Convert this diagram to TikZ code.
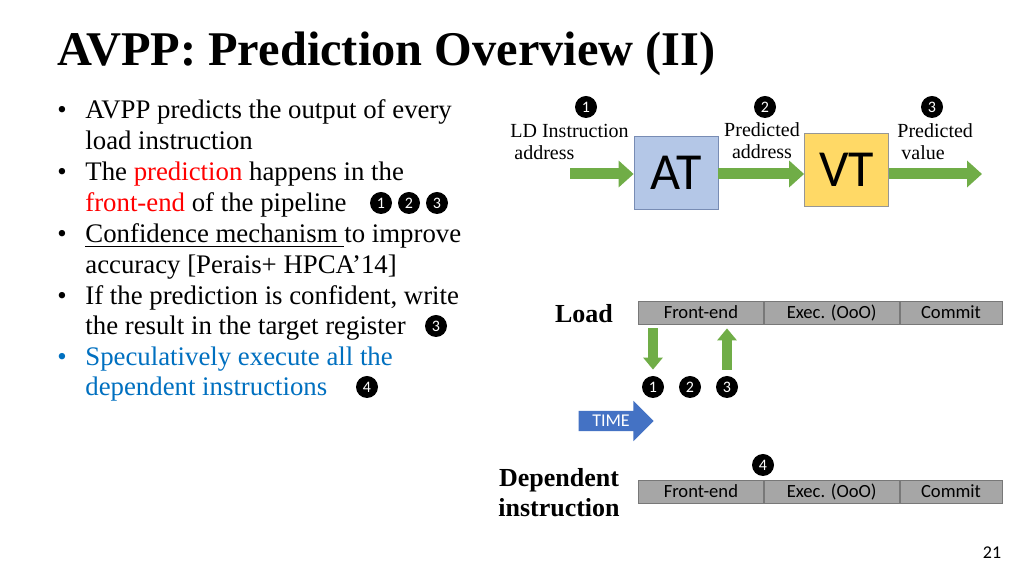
\documentclass[tikz,border=0pt]{standalone}
\usepackage{fontspec}
\setmainfont{Liberation Serif}
\setsansfont{Carlito}
\usetikzlibrary{positioning,shapes.arrows,arrows.meta}
\definecolor{hotred}{RGB}{255,0,0}
\definecolor{specblue}{RGB}{0,112,192}
\definecolor{arrowgreen}{RGB}{112,173,71}
\definecolor{timeblue}{RGB}{68,114,196}
\definecolor{atfill}{RGB}{180,199,231}
\definecolor{atline}{RGB}{120,140,180}
\definecolor{vtfill}{RGB}{255,217,102}
\definecolor{vtline}{RGB}{150,150,150}
\definecolor{stagefill}{RGB}{166,166,166}
\definecolor{stageline}{RGB}{120,120,120}
\begin{document}
\begin{tikzpicture}[x=0.5pt,y=-0.5pt,
    num/.style={circle,fill=black,text=white,inner sep=0pt,minimum size=11pt,
      font=\sffamily\fontsize{8}{8}\selectfont},
    body/.style={anchor=base west,inner sep=0pt,font=\fontsize{13.4}{15}\selectfont},
    lbl/.style={inner sep=0pt,align=left,font=\fontsize{10}{11}\selectfont},
    big/.style={inner sep=0pt,align=center,font=\bfseries\fontsize{13}{15}\selectfont},
    table/.style={draw,minimum width=42pt,minimum height=36.5pt,
      font=\sffamily\fontsize{26}{26}\selectfont},
    stage/.style={draw=stageline,fill=stagefill,minimum height=11.5pt,inner sep=0pt,
      text height=7.2pt,text depth=1.3pt,font=\sffamily\fontsize{9.3}{9.3}\selectfont},
    garrow/.style={draw=arrowgreen,line width=5.5pt,-{Triangle[width=13pt,length=7.5pt]}},
    garrowv/.style={draw=arrowgreen,line width=5pt,-{Triangle[width=9.5pt,length=6pt]}},
    node distance=0pt]
  \useasboundingbox (0,0) rectangle (1024,576);
  \fill[white] (0,0) rectangle (1024,576);

  \node[anchor=base west,inner sep=0pt,font=\bfseries\fontsize{24.2}{30}\selectfont]
    (title) at (57,66) {AVPP: Prediction Overview (II)};

  \foreach \y in {119,181,243,305}
    \node[body,anchor=base] at (62,\y) {\textbullet};
  \node[body,anchor=base,text=specblue] at (62,366) {\textbullet};
  \node[body] (b1) at (85,119) {AVPP predicts the output of every};
  \node[body] (b2) at (85,150) {load instruction};
  \node[body] (b3) at (85,181) {The \textcolor{hotred}{prediction} happens in the};
  \node[body] (b4) at (85,212) {\textcolor{hotred}{front-end} of the pipeline};
  \node[body] (b5) at (85,243) {\underline{Confidence mechanism\ }to improve};
  \node[body] (b6) at (85,274) {accuracy [Perais+ HPCA’14]};
  \node[body] (b7) at (85,305) {If the prediction is confident, write};
  \node[body] (b8) at (85,335) {the result in the target register};
  \node[body,text=specblue] (b9) at (85,366) {Speculatively execute all the};
  \node[body,text=specblue] (b10) at (85,396) {dependent instructions};
  \foreach \x/\n in {381/1,409/2,437/3}
    \node[num] (t\n) at (\x,203) {\n};
  \node[num] (r3) at (436,326) {3};
  \node[num] (s4) at (367,387) {4};

  \node[table,fill=atfill,draw=atline] (at) at (676,172.5) {AT};
  \node[table,fill=vtfill,draw=vtline] (vt) at (846.5,169.5) {VT};
  \coordinate (ldin) at (570,174);
  \coordinate (vout) at (982,174);
  \draw[garrow] (ldin) -- (at.west |- ldin);
  \draw[garrow] (at.east |- ldin) -- (vt.west |- ldin);
  \draw[garrow] (vt.east |- ldin) -- (vout);
  \node[num] (a1) at (586,107) {1};
  \node[num] (a2) at (765,107) {2};
  \node[num] (a3) at (932,107) {3};
  \node[lbl,anchor=west] (ldaddr) at (510,142) {LD Instruction\\\hspace*{2pt}address};
  \node[lbl,align=center] (paddr) at (762,141) {Predicted\\address};
  \node[lbl,anchor=west] (pval) at (897,142) {Predicted\\\hspace*{2pt}value};

  \node[big] (ld) at (584,314) {Load};
  \node[stage,minimum width=62.5pt,anchor=west] (lfe) at (638,312.5) {Front-end};
  \node[stage,minimum width=67.5pt,right=of lfe] (lex) {Exec. (OoO)};
  \node[stage,minimum width=51pt,right=of lex] (lcm) {Commit};
  \node[num] (l1) at (653,387) {1};
  \node[num] (l2) at (690,387) {2};
  \node[num] (l3) at (727,387) {3};
  \draw[garrowv,shorten <=2pt,shorten >=3pt] (lfe.south -| l1) -- (l1.north);
  \draw[garrowv,shorten <=3pt,shorten >=2pt] (l3.north) -- (lfe.south -| l3);
  \node[single arrow,fill=timeblue,text=white,minimum height=37.5pt,
    single arrow head extend=5pt,inner sep=2pt,
    font=\sffamily\fontsize{9}{9}\selectfont] (time) at (611,421) {TIME};

  \node[big] (dep) at (559,493) {Dependent\\instruction};
  \node[stage,minimum width=62.5pt,anchor=west] (dfe) at (638,492) {Front-end};
  \node[stage,minimum width=67.5pt,right=of dfe] (dex) {Exec. (OoO)};
  \node[stage,minimum width=51pt,right=of dex] (dcm) {Commit};
  \node[num] (d4) at (763,465) {4};

  \node[font=\sffamily\fontsize{9}{9}\selectfont] (page) at (992,553) {21};
\end{tikzpicture}
\end{document}
